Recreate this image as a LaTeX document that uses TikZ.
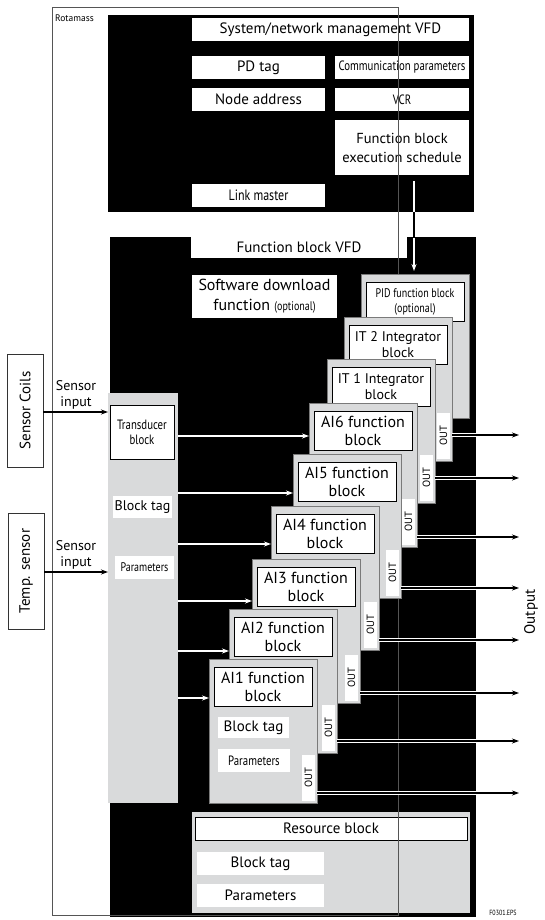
\documentclass[tikz,border=0pt]{standalone}
\usepackage{fontspec}
\usepackage{graphicx}
\setmainfont{PT Sans}
\newfontfamily\condf{PT Sans}[FakeStretch=0.8]
\usetikzlibrary{arrows.meta,calc}
\definecolor{blkgray}{HTML}{D9DADB}
\definecolor{edgegray}{HTML}{7A7A7A}
\definecolor{framegray}{HTML}{555555}
\newcommand\fsz[2]{\fontsize{#1}{#2}\selectfont}
\newcommand\stk[5]{%
  \node[gblock] (#1) at (#2,#3) {};
  \node[bwbox,minimum width=98pt,minimum height=39pt,#4] (#1in) at ($(#1.north west)+(5,8)$) {#5};}
\newcommand\stkout[1]{%
  \node[wbox,minimum width=13pt,minimum height=46pt,font=\fsz{10.5}{12}] (#1out) at ($(#1.north west)+(93,96)$) {\rotatebox{90}{OUT}};}
\begin{document}
\begin{tikzpicture}[x=1pt,y=-1pt,
  wbox/.style={fill=white,inner sep=0pt,outer sep=0pt,anchor=north west,align=center},
  bwbox/.style={wbox,draw=black,line width=0.9pt},
  blackreg/.style={fill=black,inner sep=0pt,outer sep=0pt,anchor=north west},
  gfill/.style={fill=blkgray,inner sep=0pt,outer sep=0pt,anchor=north west},
  gblock/.style={gfill,draw=edgegray,line width=0.8pt,minimum width=108pt,minimum height=144pt},
  sbox/.style={draw=black!80,line width=0.9pt,inner sep=0pt,outer sep=0pt,anchor=north west},
  warrow/.style={white,line width=1.6pt,-{Stealth[length=7pt,width=5pt]}},
  barrow/.style={black,line width=1.2pt,-{Stealth[length=7pt,width=5pt]}},
  f14/.style={font=\fsz{14}{16}},
  f15/.style={font=\fsz{15}{17}},
  f16/.style={font=\fsz{16}{18}},
  fc12/.style={font=\condf\fsz{12.5}{15}},
  fc13/.style={font=\condf\fsz{13.5}{15}},
  fc15/.style={font=\condf\fsz{15}{17}}]
\useasboundingbox (0,0) rectangle (544,920);
\fill[white] (0,0) rectangle (544,920);

% top region: system/network management VFD
\node[blackreg,minimum width=366pt,minimum height=197pt] (topreg) at (108,15) {};
\node[wbox,minimum width=277pt,minimum height=23pt,f15] (sysvfd) at (192,18) {System/network management VFD};
\node[wbox,minimum width=133pt,minimum height=23pt,f15] (pdtag) at (192,56) {PD tag};
\node[wbox,minimum width=134pt,minimum height=23pt,fc13] (comm) at (335,56) {Communication parameters};
\node[wbox,minimum width=133pt,minimum height=23pt,f15] (nodeaddr) at (192,88) {Node address};
\node[wbox,minimum width=134pt,minimum height=23pt,fc13] (vcr) at (335,88) {VCR};
\node[wbox,minimum width=134pt,minimum height=55pt,font=\fsz{14.5}{19}] (fbexec) at (335,120) {Function block\\execution schedule};
\node[wbox,minimum width=133pt,minimum height=23pt,fc15] (linkm) at (192,184) {Link master};

% function block VFD region
\node[blackreg,minimum width=366pt,minimum height=680pt] (fbreg) at (110,237) {};
\node[wbox,minimum width=216pt,minimum height=21pt,f15] (fbvfd) at (191,237) {Function block VFD};
\node[wbox,minimum width=145pt,minimum height=43pt,font=\fsz{16}{20}] (swdl) at (192,275) {Software download\\function {\condf\fsz{12.5}{15}(optional)}};

% transducer column
\node[gfill,minimum width=70pt,minimum height=410pt] (col) at (108,393) {};
\node[bwbox,minimum width=64pt,minimum height=54pt,fc13] (trans) at (110,405) {Transducer\\block};
\node[wbox,minimum width=59pt,minimum height=22pt,f14] (coltag) at (113,496) {Block tag};
\node[wbox,minimum width=59pt,minimum height=23pt,fc12] (colpar) at (115,556) {Parameters};

% resource block
\node[gfill,minimum width=278pt,minimum height=101pt] (res) at (192,812) {};
\node[bwbox,minimum width=272pt,minimum height=23pt,f15] (resin) at (195,817) {Resource block};
\node[wbox,minimum width=127pt,minimum height=23pt,f15] (restag) at (197,852) {Block tag};
\node[wbox,minimum width=127pt,minimum height=23pt,f15] (respar) at (197,884) {Parameters};

% Rotamass frame
\node[draw=framegray,line width=0.9pt,inner sep=0pt,outer sep=0pt,anchor=north west,minimum width=346pt,minimum height=908pt] (frame) at (52,7) {};
\node[anchor=west,inner sep=0pt,font=\fsz{9.5}{11}] (rota) at (55,18) {Rotamass};

% schedule arrow
\draw[warrow,shorten >=3pt] ($(fbexec.south -| 414,0)+(0,6)$) -- (414,274) coordinate (pidtop);
\begin{scope}
  \clip (0,212) rectangle (544,237);
  \draw[black,line width=1.6pt] ($(fbexec.south -| 414,0)+(0,6)$) -- (pidtop);
\end{scope}

% stacked function blocks
\stk{pid}{361}{274}{fc12}{PID function block\\(optional)}
\stk{it2}{344}{317}{f14}{IT 2 Integrator\\block}\stkout{it2}
\stk{it1}{327}{359}{f14}{IT 1 Integrator\\block}\stkout{it1}
\stk{ai6}{309}{403}{f16}{AI6 function\\block}\stkout{ai6}
\stk{ai5}{293}{454}{f16}{AI5 function\\block}\stkout{ai5}
\stk{ai4}{271}{506}{f16}{AI4 function\\block}\stkout{ai4}
\stk{ai3}{252}{559}{f16}{AI3 function\\block}\stkout{ai3}
\stk{ai2}{229}{609}{f16}{AI2 function\\block}\stkout{ai2}
\stk{ai1}{209}{659}{f16}{AI1 function\\block}\stkout{ai1}
\node[wbox,minimum width=71pt,minimum height=21pt,f15] (ai1tag) at ($(ai1.north west)+(9,58)$) {Block tag};
\node[wbox,minimum width=72pt,minimum height=23pt,fc13] (ai1par) at ($(ai1.north west)+(9,90)$) {Parameters};

% inputs from transducer block
\foreach \b/\yy in {ai6/436,ai5/493,ai4/544,ai3/601,ai2/651,ai1/698}
  \draw[warrow] (col.east |- 0,\yy) -- (\b.west |- 0,\yy);

% outputs
\foreach \b/\yy in {it2/435,it1/478,ai6/537,ai5/588,ai4/640,ai3/693,ai2/741,ai1/793}{
  \coordinate (\b-end) at (519,\yy);
  \draw[white,line width=3.4pt] (\b.east |- 0,\yy) -- (fbreg.east |- 0,\yy);
  \draw[black,line width=1.1pt,-{Stealth[length=7pt,width=5pt]}] (\b.east |- 0,\yy) -- (\b-end);
}

% sensors
\node[sbox,minimum width=36pt,minimum height=113pt,f15] (coils) at (7,354) {\rotatebox{90}{Sensor Coils}};
\node[sbox,minimum width=36pt,minimum height=116pt,f15] (temp) at (8,513) {\rotatebox{90}{Temp. sensor}};
\draw[barrow] (coils.east |- 0,412) -- (col.west |- 0,412);
\draw[barrow] (temp.east |- 0,572) -- (col.west |- 0,572);
\node[f14,align=center,anchor=south,inner sep=0pt] (in1) at (76,409) {Sensor\\input};
\node[f14,align=center,anchor=south,inner sep=0pt] (in2) at (76,569) {Sensor\\input};

\node[f15,inner sep=0pt] (outlbl) at (531,612) {\rotatebox{90}{Output}};
\node[inner sep=0pt,font=\condf\fsz{7.5}{9}] (fig) at (503,913) {F0301.EPS};
\end{tikzpicture}
\end{document}
